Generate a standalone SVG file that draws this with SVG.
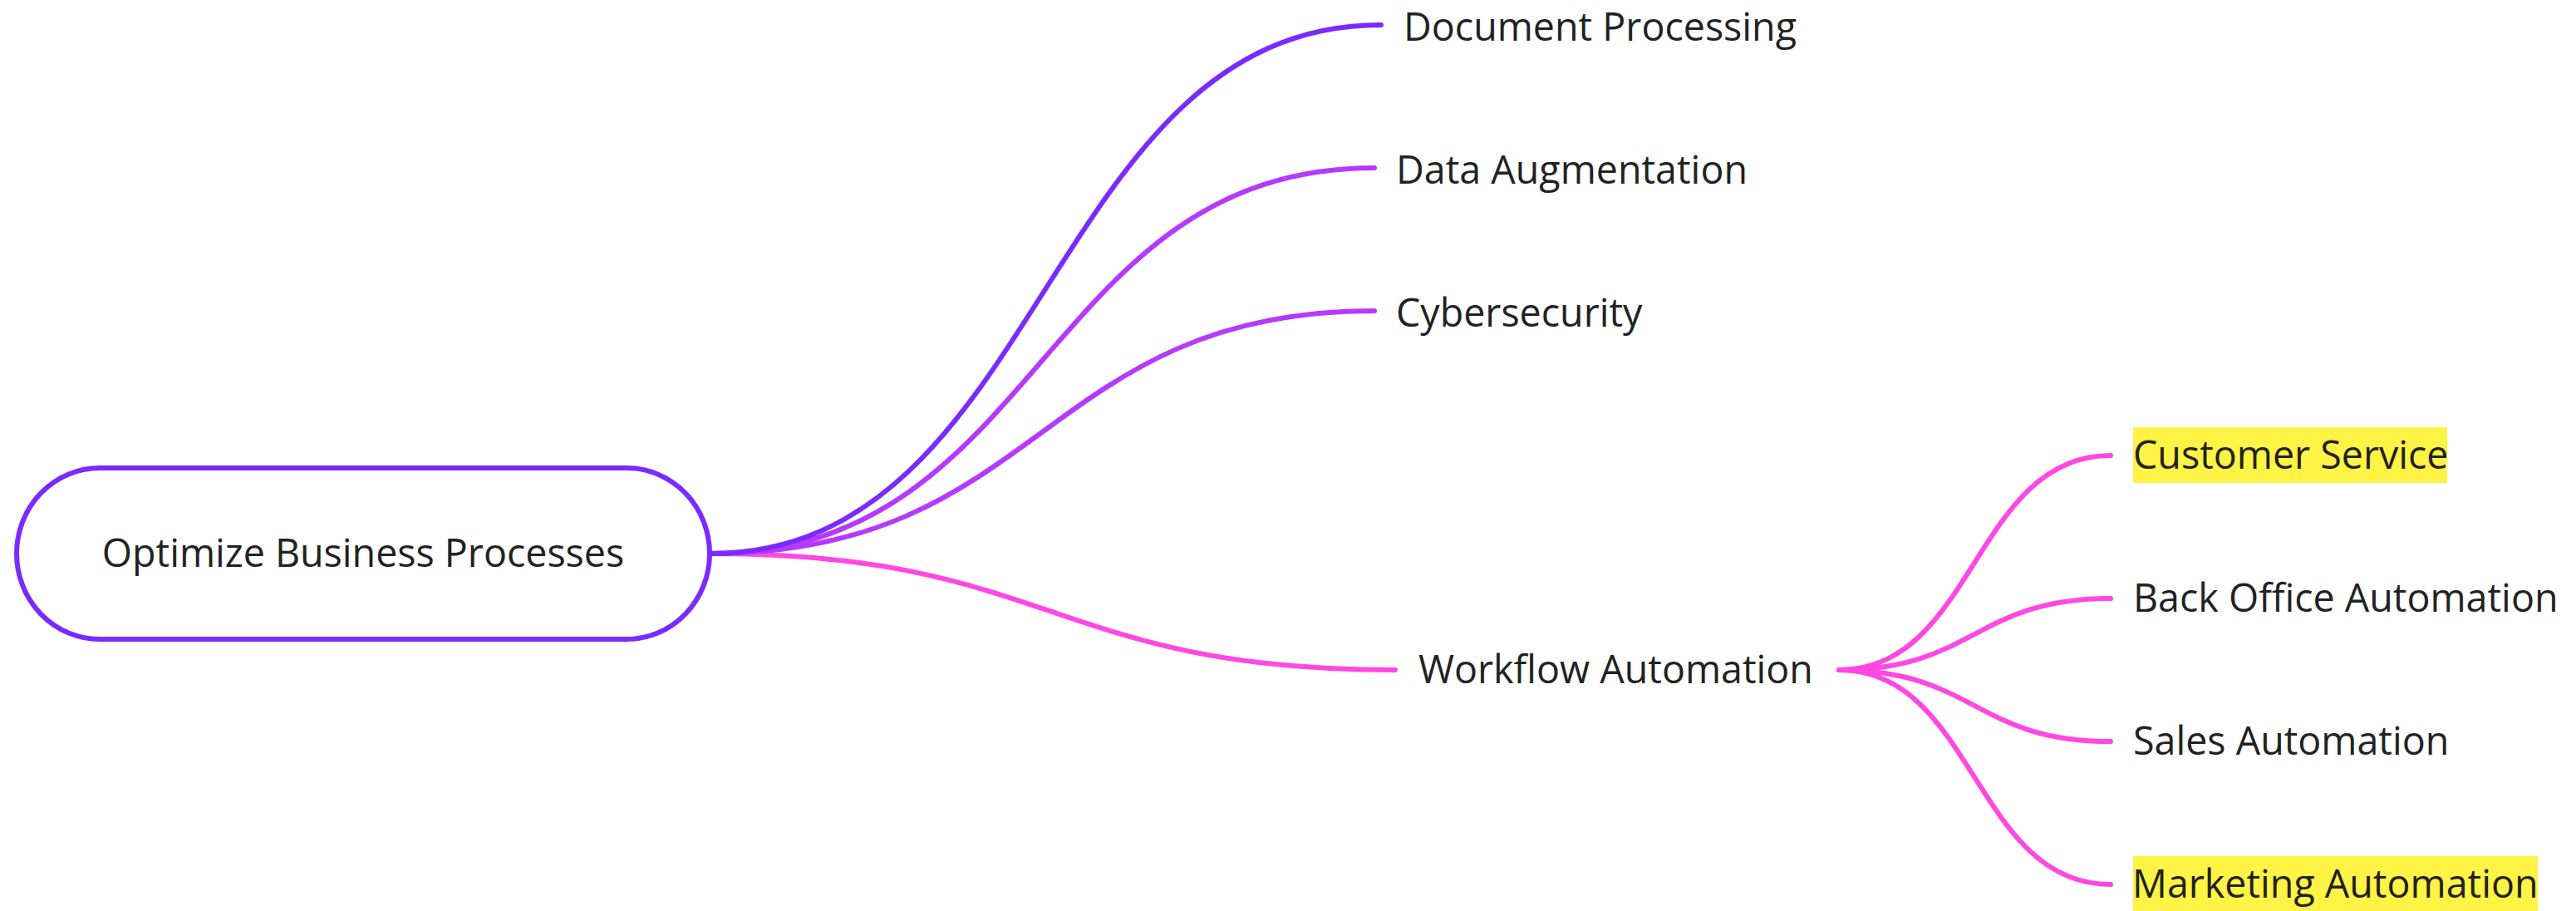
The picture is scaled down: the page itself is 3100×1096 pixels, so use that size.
<svg xmlns="http://www.w3.org/2000/svg" width="3100" height="1096" viewBox="0 0 3100 1096">
<style>
.lbl{font-family:"Open Sans","Noto Sans","DejaVu Sans",sans-serif;font-size:46.6px;fill:#222222}
.edge{fill:none;stroke-width:6;stroke-linecap:round}
.c1{stroke:#7A2BFF}
.c2{stroke:#B639FF}
.c3{stroke:#FF48E2}
.hl{fill:#FFF345}
</style>
<rect width="3100" height="1096" fill="#ffffff"/>
<g id="connectors">
<path class="edge c3" d="M854,666 C1266,666 1266,806 1679,806"/>
<path class="edge c2" d="M854,666 C1254,666 1254,374 1654,374"/>
<path class="edge c2" d="M854,666 C1254,666 1254,202 1654,202"/>
<path class="edge c1" d="M854,666 C1258,666 1258,30 1662,30"/>
<path class="edge c3" d="M2213,806 C2376,806 2376,548 2540,548"/>
<path class="edge c3" d="M2213,806 C2376,806 2376,720 2540,720"/>
<path class="edge c3" d="M2213,806 C2376,806 2376,892 2540,892"/>
<path class="edge c3" d="M2213,806 C2376,806 2376,1064 2540,1064"/>
</g>
<g id="root">
<rect x="20" y="563" width="834" height="206" rx="100" ry="103" fill="#ffffff" stroke="#7A2BFF" stroke-width="6"/>
<text class="lbl" x="437" y="682" text-anchor="middle">Optimize Business Processes</text>
</g>
<g id="document-processing"><text class="lbl" x="1689" y="49">Document Processing</text></g>
<g id="data-augmentation"><text class="lbl" x="1680" y="221">Data Augmentation</text></g>
<g id="cybersecurity"><text class="lbl" x="1680" y="393">Cybersecurity</text></g>
<g id="workflow-automation"><text class="lbl" x="1707" y="822">Workflow Automation</text></g>
<g id="customer-service">
<rect class="hl" x="2567" y="514" width="378" height="67"/>
<text class="lbl" x="2567" y="564">Customer Service</text>
</g>
<g id="back-office-automation"><text class="lbl" x="2567" y="736">Back Office Automation</text></g>
<g id="sales-automation"><text class="lbl" x="2567" y="908">Sales Automation</text></g>
<g id="marketing-automation">
<rect class="hl" x="2567" y="1030" width="487" height="67"/>
<text class="lbl" x="2566" y="1080">Marketing Automation</text>
</g>
</svg>
